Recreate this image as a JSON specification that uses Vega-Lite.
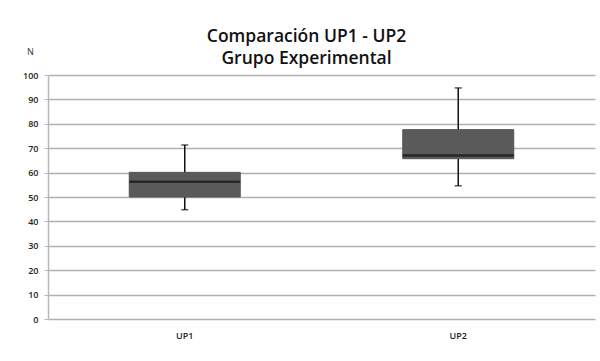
{
  "$schema": "https://vega.github.io/schema/vega-lite/v6.json",
  "autosize": "none",
  "width": 547,
  "height": 244,
  "padding": {"left": 48, "top": 75, "right": 5, "bottom": 42},
  "background": "white",
  "title": {
    "text": ["Comparación UP1 - UP2", "Grupo Experimental"],
    "font": "Open Sans",
    "fontSize": 17.5,
    "fontWeight": 600,
    "color": "#111111",
    "anchor": "middle",
    "dx": -15,
    "dy": 29,
    "offset": 9,
    "lineHeight": 22
  },
  "data": {
    "values": [
      {"grupo": "UP1", "min": 44.8, "q1": 50, "median": 56.3, "q3": 60.1, "max": 71.3},
      {"grupo": "UP2", "min": 54.6, "q1": 65.7, "median": 67, "q3": 77.6, "max": 94.7}
    ]
  },
  "encoding": {
    "x": {
      "field": "grupo",
      "type": "nominal",
      "scale": {"paddingInner": 0, "paddingOuter": 0},
      "axis": {
        "title": null,
        "labelAngle": 0,
        "labelFont": "Open Sans",
        "labelFontSize": 9,
        "labelFontWeight": 600,
        "labelColor": "#222222",
        "labelPadding": 12,
        "domain": false,
        "ticks": false,
        "grid": false
      }
    }
  },
  "layer": [
    {
      "mark": {"type": "rule", "color": "#111111", "strokeWidth": 1.5},
      "encoding": {
        "y": {
          "field": "min",
          "type": "quantitative",
          "scale": {"domain": [0, 100], "nice": false},
          "axis": {"values": [0, 10, 20, 30, 40, 50, 60, 70, 80, 90, 100], "title": "N"}
        },
        "y2": {"field": "max"}
      }
    },
    {
      "mark": {"type": "bar", "color": "#5a5a5a", "size": 111, "stroke": "#555555", "strokeWidth": 1},
      "encoding": {
        "y": {"field": "q1", "type": "quantitative", "axis": {"values": [0, 10, 20, 30, 40, 50, 60, 70, 80, 90, 100], "title": "N"}},
        "y2": {"field": "q3"}
      }
    },
    {
      "mark": {"type": "tick", "color": "#111111", "size": 111, "thickness": 2.5},
      "encoding": {"y": {"field": "median", "type": "quantitative", "axis": {"values": [0, 10, 20, 30, 40, 50, 60, 70, 80, 90, 100], "title": "N"}}}
    },
    {
      "mark": {"type": "tick", "color": "#111111", "size": 7, "thickness": 1.5},
      "encoding": {"y": {"field": "max", "type": "quantitative", "axis": {"values": [0, 10, 20, 30, 40, 50, 60, 70, 80, 90, 100], "title": "N"}}}
    },
    {
      "mark": {"type": "tick", "color": "#111111", "size": 7, "thickness": 1.5},
      "encoding": {"y": {"field": "min", "type": "quantitative", "axis": {"values": [0, 10, 20, 30, 40, 50, 60, 70, 80, 90, 100], "title": "N"}}}
    }
  ],
  "config": {
    "view": {"stroke": null},
    "axisY": {
      "titleAngle": 0,
      "titleX": -18,
      "titleY": -24,
      "titleFont": "Open Sans",
      "titleFontSize": 9,
      "titleFontWeight": "normal",
      "titleColor": "#333333",
      "titleAlign": "center",
      "titleBaseline": "middle",
      "labelFont": "Open Sans",
      "labelFontSize": 9,
      "labelFontWeight": 600,
      "labelColor": "#222222",
      "labelPadding": 6,
      "labelOverlap": false,
      "gridColor": "#b0b0b0",
      "gridWidth": 1.6,
      "domainColor": "#b8b8b8",
      "domainWidth": 1.5,
      "tickColor": "#b8b8b8",
      "tickSize": 4
    }
  }
}
